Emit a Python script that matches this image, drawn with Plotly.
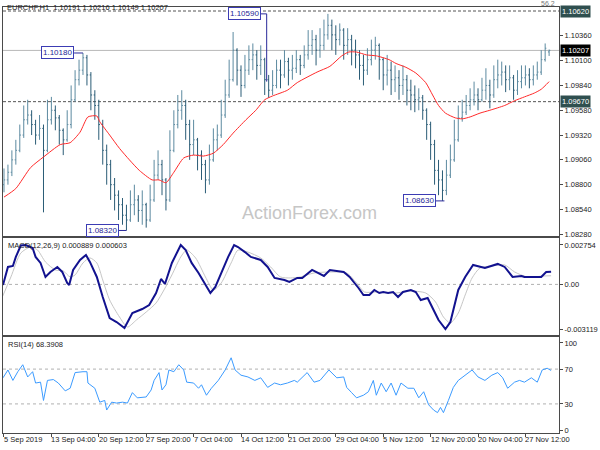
import plotly.graph_objects as go

# ---------------- data ----------------
bar_idx = list(range(139))

open_ = [1.0880,1.0885,1.0893,1.0906,1.0916,1.0932,1.0948,1.0953,1.0943,1.0932,
         1.0939,1.0916,1.0948,1.0958,1.0950,1.0937,1.0927,1.0943,1.0969,1.0990,
         1.1000,1.1013,1.0995,1.0974,1.0963,1.0943,1.0916,1.0901,1.0880,1.0869,
         1.0859,1.0848,1.0843,1.0859,1.0864,1.0853,1.0859,1.0843,1.0864,1.0890,
         1.0901,1.0885,1.0864,1.0916,1.0943,1.0958,1.0963,1.0943,1.0922,1.0927,
         1.0911,1.0901,1.0885,1.0906,1.0927,1.0932,1.0953,1.0974,1.0990,1.1021,
         1.1000,1.0984,1.1000,1.1011,1.1016,1.1005,1.1011,1.0990,1.0979,1.0984,
         1.1000,1.0995,1.1009,1.1000,1.1002,1.1011,1.1005,1.1016,1.1026,1.1032,
         1.1021,1.1026,1.1037,1.1047,1.1037,1.1032,1.1042,1.1026,1.1032,1.1021,
         1.1016,1.1005,1.1000,1.1011,1.1021,1.1026,1.1011,1.0995,1.1000,1.0990,
         1.0992,1.0984,1.0990,1.0979,1.0974,1.0969,1.0971,1.0958,1.0943,1.0922,
         1.0895,1.0885,1.0874,1.0890,1.0906,1.0927,1.0950,1.0956,1.0963,1.0969,
         1.0974,1.0969,1.0979,1.0984,1.0974,1.0990,1.0995,1.0998,1.0990,1.0992,
         1.0979,1.0988,1.0992,1.0995,1.0990,1.0995,1.0998,1.1011,1.10191]

high = [1.0897,1.0901,1.0916,1.0927,1.0943,1.0963,1.0969,1.0958,1.0948,1.0953,
        1.0943,1.0969,1.0972,1.0963,1.0953,1.0939,1.0958,1.0984,1.1000,1.1011,
        1.1018,1.1016,1.0998,1.0979,1.0969,1.0948,1.0922,1.0906,1.0887,1.0874,
        1.0866,1.0859,1.0874,1.0880,1.0869,1.0874,1.0861,1.0880,1.0906,1.0916,
        1.0906,1.0887,1.0937,1.0958,1.0974,1.0979,1.0969,1.0948,1.0948,1.0929,
        1.0916,1.0906,1.0922,1.0939,1.0943,1.0969,1.0990,1.1011,1.1040,1.1023,
        1.1005,1.1016,1.1026,1.1028,1.1021,1.1026,1.1013,1.0995,1.1000,1.1011,
        1.1011,1.1021,1.1013,1.1016,1.1021,1.1016,1.1026,1.1042,1.1042,1.1037,
        1.1044,1.1053,1.1059,1.1053,1.1047,1.1049,1.1044,1.1044,1.1037,1.1032,
        1.1021,1.1016,1.1023,1.1032,1.1035,1.1028,1.1013,1.1016,1.1009,1.1005,
        1.1000,1.1005,1.0995,1.0990,1.0984,1.0981,1.0974,1.0960,1.0946,1.0927,
        1.0906,1.0895,1.0906,1.0922,1.0948,1.0963,1.0969,1.0974,1.0981,1.0988,
        1.0981,1.0992,1.1002,1.0990,1.1005,1.1011,1.1009,1.1005,1.1005,1.0995,
        1.1000,1.1005,1.1005,1.1002,1.1005,1.1009,1.1021,1.1028,1.10216]

low = [1.0872,1.0880,1.0889,1.0901,1.0914,1.0929,1.0943,1.0932,1.0922,1.0927,
       1.0851,1.0914,1.0943,1.0937,1.0922,1.0911,1.0925,1.0939,1.0967,1.0984,
       1.0995,1.0984,1.0958,1.0948,1.0927,1.0901,1.0880,1.0864,1.0853,1.0843,
       1.0838,1.0832,1.0841,1.0848,1.0841,1.0838,1.0835,1.0841,1.0862,1.0885,
       1.0869,1.0853,1.0862,1.0914,1.0939,1.0948,1.0927,1.0906,1.0911,1.0895,
       1.0885,1.0871,1.0880,1.0904,1.0916,1.0929,1.0950,1.0971,1.0988,1.0984,
       1.0972,1.0981,1.0995,1.1000,1.0990,1.0995,1.0974,1.0971,1.0974,1.0981,
       1.0981,1.0992,1.0984,1.0990,1.0997,1.0995,1.1002,1.1011,1.1016,1.1005,
       1.1013,1.1021,1.1032,1.1021,1.1016,1.1026,1.1011,1.1016,1.1005,1.1002,
       1.0990,1.0984,1.0995,1.1005,1.1011,1.0990,1.0979,1.0984,1.0974,1.0977,
       1.0969,1.0974,1.0963,1.0958,1.0956,1.0958,1.0948,1.0927,1.0906,1.0880,
       1.0869,1.0863,1.0869,1.0887,1.0904,1.0925,1.0946,1.0953,1.0958,1.0963,
       1.0958,1.0967,1.0969,1.0960,1.0971,1.0981,1.0984,1.0977,1.0979,1.0969,
       1.0974,1.0981,1.0984,1.0981,1.0984,1.0990,1.0995,1.1009,1.10149]

close = [1.0885,1.0893,1.0906,1.0916,1.0932,1.0948,1.0953,1.0943,1.0932,1.0939,
         1.0916,1.0948,1.0958,1.0950,1.0937,1.0927,1.0943,1.0969,1.0990,1.1000,
         1.1013,1.0995,1.0974,1.0963,1.0943,1.0916,1.0901,1.0880,1.0869,1.0859,
         1.0848,1.0843,1.0859,1.0864,1.0853,1.0859,1.0843,1.0864,1.0890,1.0901,
         1.0885,1.0864,1.0916,1.0943,1.0958,1.0963,1.0943,1.0922,1.0927,1.0911,
         1.0901,1.0885,1.0906,1.0927,1.0932,1.0953,1.0974,1.0990,1.1021,1.1000,
         1.0984,1.1000,1.1011,1.1016,1.1005,1.1011,1.0990,1.0979,1.0984,1.1000,
         1.0995,1.1009,1.1000,1.1002,1.1011,1.1005,1.1016,1.1026,1.1032,1.1021,
         1.1026,1.1037,1.1047,1.1037,1.1032,1.1042,1.1026,1.1032,1.1021,1.1016,
         1.1005,1.1000,1.1011,1.1021,1.1026,1.1011,1.0995,1.1000,1.0990,1.0992,
         1.0984,1.0990,1.0979,1.0974,1.0969,1.0971,1.0958,1.0943,1.0922,1.0895,
         1.0885,1.0874,1.0890,1.0906,1.0927,1.0950,1.0956,1.0963,1.0969,1.0974,
         1.0969,1.0979,1.0984,1.0974,1.0990,1.0995,1.0998,1.0990,1.0992,1.0979,
         1.0988,1.0992,1.0995,1.0990,1.0995,1.0998,1.1011,1.1023,1.10207]

ma_x = [0,3,6.75,10,14.25,16.75,19.25,21.25,23.5,24.25,
        26.75,29.25,31.75,34.25,37.5,39.25,41,43,45.5,48,
        50.5,53,55.5,58,61.25,63.75,66,68,71.75,74.25,
        79.25,82.5,85.5,87.25,89.25,91.75,94.25,97.5,99.25,101.75,
        104.25,106.75,108.5,110,111.75,114.25,116,118,120.5,123,
        126.75,129.25,131.75,134.25,136,138]
ma_v = [1.0867,1.0876,1.0898,1.0909,1.0922,1.0924,1.0935,1.0951,1.0952,1.0946,
        1.0932,1.0918,1.0906,1.0895,1.0885,1.0885,1.0882,1.0893,1.0908,1.0911,
        1.0910,1.0913,1.0922,1.0934,1.0948,1.0958,1.0969,1.0973,1.0979,1.0987,
        1.0998,1.1004,1.1015,1.1019,1.1019,1.1016,1.1015,1.1011,1.1007,1.1003,
        1.0997,1.0987,1.0974,1.0963,1.0955,1.0950,1.0949,1.0951,1.0955,1.0958,
        1.0963,1.0968,1.0972,1.0976,1.0980,1.0988]

macd_x = [-0.25,1,2.25,3,4.25,5.5,7.25,8,9.25,10.5,11.75,13.5,14.75,16,16.5,17.5,
          19.25,20.75,21.75,23.5,25,26.75,28.5,30.5,32.5,35,36.75,38.5,39.75,40.75,
          42.5,44.75,46,47.5,49.25,51,52.25,53.5,55,56.75,58.25,59.25,61,62.5,65,
          66.75,68.5,71,72.25,74.25,75.5,78,81,82.5,86,87.5,89.75,91,92.5,93.75,95,
          96,97.25,98.5,99.75,101,103,104.25,105.5,107.25,108.75,110,111.75,113,115,
          116.75,118.75,120.5,121.75,125,126.75,128.75,131,131.75,136,137.25,138.5]
macd_v = [-0.00004,0.00122,0.00129,0.00192,0.00272,0.00275,0.00254,0.00192,0.00150,0.00052,
          0.00087,0.00122,0.00087,0.00010,-0.00004,0.00101,0.00171,0.00206,0.00157,0.00052,
          -0.00088,-0.00235,-0.00263,-0.00305,-0.00200,-0.00172,-0.00144,-0.00060,0.00038,0.00003,
          0.00150,0.00275,0.00240,0.00150,0.00080,-0.00004,-0.00060,-0.00018,0.00080,0.00192,
          0.00275,0.00261,0.00226,0.00192,0.00171,0.00122,0.00045,0.00031,0.00017,0.00045,
          0.00045,0.00101,0.00059,0.00101,0.00087,0.00052,-0.00025,-0.00074,-0.00074,-0.00039,
          -0.00060,-0.00053,-0.00060,-0.00053,-0.00088,-0.00053,-0.00039,-0.00053,-0.00109,-0.00095,
          -0.00179,-0.00249,-0.00312,-0.00263,-0.00039,0.00052,0.00136,0.00122,0.00115,0.00143,
          0.00122,0.00052,0.00059,0.00052,0.00052,0.00087,0.000889]

signal_x = [-0.75,1.75,4.25,6.75,8.5,10.5,13,15,16.75,18,20,21.75,23.5,25,26.75,29.25,
            31.25,33.5,36,38.5,40.5,42.5,44.75,46.25,48.5,51,53,55,57.5,59.25,61.75,65,
            67.5,70,72.5,75,78.5,83.5,86.75,89.25,91.25,94.25,99.25,102.5,106.75,109.25,
            111.25,113,115,116.75,118.5,120.5,123.5,126.75,129.25,132.5,136.75,138.5]
signal_v = [-0.00109,0.00052,0.00219,0.00261,0.00240,0.00157,0.00101,0.00094,0.00052,0.00066,
            0.00150,0.00185,0.00150,0.00031,-0.00109,-0.00228,-0.00298,-0.00249,-0.00193,-0.00130,
            -0.00039,0.00066,0.00192,0.00240,0.00185,0.00052,-0.00039,0.00010,0.00150,0.00240,
            0.00226,0.00185,0.00122,0.00052,0.00045,0.00052,0.00080,0.00087,0.00080,0.00010,
            -0.00053,-0.00053,-0.00060,-0.00046,-0.00060,-0.00123,-0.00228,-0.00270,-0.00200,-0.00074,
            0.00045,0.00115,0.00129,0.00136,0.00087,0.00052,0.00059,0.000603]

rsi_x = [-0.25,1,2.25,3.5,4.75,6,7.25,8,9.25,10,11,12.5,13.75,15.5,16.75,18,20,21,21.25,
         23,24.25,25.5,26,27.25,28.5,30,31.25,32.5,33.75,36,37.25,38,39.25,40,41,41.75,
         43,44.25,45.5,46.25,48,49.25,50,51.25,52.5,54.25,56,57.5,58.5,60,61.75,63.5,65,
         66.75,68.5,70,71.75,73.5,74.25,75.5,76.75,78.5,80,82.25,84.25,86,86.75,88,89.25,
         91,92.25,93.5,94.25,95.5,96.75,98,99.25,100.5,102.25,103.75,105,106.25,107.5,
         108.75,109.75,110.5,111.25,112.5,113.75,115,116.25,118.5,120,121.75,123.5,125,
         126.25,127.5,129.25,130.5,131.75,133.5,135,136.25,137.5,138.5]
rsi_v = [60,69,57,67,75,61,67,54,55,34,57,58,54,45,48,66,67,67,54,
         48,32,34,23,32,31,32,31,43,37,38,46,57,66,46,52,69,
         67,75,69,55,54,48,52,40,48,57,69,83,69,63,61,57,60,
         49,54,52,54,57,55,61,66,55,57,69,60,61,49,43,37,
         40,44,57,40,54,44,54,40,54,48,48,37,44,29,
         23,20,26,20,34,49,57,61,69,61,57,63,66,
         60,48,55,57,55,60,55,69,71,68.39]

price_ticks = [1.0828, 1.0854, 1.0880, 1.0906, 1.0932, 1.0958, 1.0984, 1.1010, 1.1036]
price_tick_text = ["1.08280", "1.08540", "1.08800", "1.09060", "1.09320",
                   "1.09580", "1.09840", "1.10100", "1.10360"]
macd_ticks = [-0.003119, 0.0, 0.002754]
macd_tick_text = ["-0.003119", "0.00", "0.002754"]
rsi_ticks = [0, 30, 70, 100]
time_tick_idx = [0, 12, 24, 36, 48, 60, 72, 84, 96, 108, 120, 132]
time_tick_labels = ["5 Sep 2019", "13 Sep 04:00", "20 Sep 12:00", "27 Sep 20:00",
                    "7 Oct 04:00", "14 Oct 12:00", "21 Oct 20:00", "29 Oct 04:00",
                    "5 Nov 12:00", "12 Nov 20:00", "20 Nov 04:00", "27 Nov 12:00"]
level_lines = [1.1062, 1.0967]
level_text = ["1.10620", "1.09670"]
last_price = 1.10207
# extreme labels: text, price, box right bar index, connector end index, connector drop price
ext_text = ["1.10180", "1.10590", "1.08320", "1.08630"]
ext_price = [1.1018, 1.1059, 1.0832, 1.0863]
ext_box_right = [17.75, 65.0, 29.0, 109.25]
ext_line_end = [20.0, 66.5, 31.0, 111.5]
ext_drop_to = [None, 1.0988, None, None]

# ---------------- figure ----------------
FONT = "Liberation Sans"
FRAME = "#4a4a4a"
fig = go.Figure()

fig.add_trace(go.Ohlc(x=bar_idx, open=open_, high=high, low=low, close=close,
                      xaxis="x", yaxis="y", tickwidth=0.3,
                      increasing=dict(line=dict(color="#5c8aa0", width=1)),
                      decreasing=dict(line=dict(color="#2a5c76", width=1)),
                      hoverinfo="skip"))
fig.add_trace(go.Scatter(x=ma_x, y=ma_v, mode="lines", xaxis="x", yaxis="y",
                         line=dict(color="#ff2a2a", width=1, shape="spline", smoothing=0.6),
                         hoverinfo="skip"))
fig.add_trace(go.Scatter(x=signal_x, y=signal_v, mode="lines", xaxis="x2", yaxis="y2",
                         line=dict(color="#c6c6c6", width=1, shape="spline", smoothing=0.7),
                         hoverinfo="skip"))
fig.add_trace(go.Scatter(x=macd_x, y=macd_v, mode="lines", xaxis="x2", yaxis="y2",
                         line=dict(color="#12128f", width=2),
                         hoverinfo="skip"))
fig.add_trace(go.Scatter(x=rsi_x, y=rsi_v, mode="lines", xaxis="x3", yaxis="y3",
                         line=dict(color="#3b9bff", width=1),
                         hoverinfo="skip"))

xr = [-0.25, 140.5]
xcommon = dict(range=xr, showgrid=False, zeroline=False, showline=True, mirror=True,
               linecolor=FRAME, linewidth=1, fixedrange=True)
ycommon = dict(side="right", showgrid=False, zeroline=False, showline=True, mirror=True,
               linecolor=FRAME, linewidth=1, ticks="outside", ticklen=3, tickcolor=FRAME,
               tickfont=dict(family=FONT, size=7.5, color="#222"), fixedrange=True)

fig.update_layout(
    width=600, height=450,
    margin=dict(l=2, r=35, t=7, b=17),
    paper_bgcolor="white", plot_bgcolor="white",
    showlegend=False,
    xaxis=dict(domain=[0, 1], anchor="y", showticklabels=False, ticks="",
               rangeslider=dict(visible=False), **xcommon),
    xaxis2=dict(domain=[0, 1], anchor="y2", showticklabels=False, ticks="", **xcommon),
    xaxis3=dict(domain=[0, 1], anchor="y3", showticklabels=False, ticks="outside",
                ticklen=3, tickcolor=FRAME, tickvals=time_tick_idx, **xcommon),
    yaxis=dict(domain=[0.4624, 1], anchor="x", range=[1.08262, 1.10662],
               tickvals=price_ticks, ticktext=price_tick_text, **ycommon),
    yaxis2=dict(domain=[0.2300, 0.4566], anchor="x2", range=[-0.003538, 0.003209],
                tickvals=macd_ticks, ticktext=macd_tick_text, **ycommon),
    yaxis3=dict(domain=[0, 0.2254], anchor="x3", range=[-3.4, 106.9],
                tickvals=rsi_ticks, ticktext=[str(v) for v in rsi_ticks], **ycommon),
)

shapes = []
# dashed level lines and current price line
for lv in level_lines:
    shapes.append(dict(type="line", xref="x domain", yref="y", x0=0, x1=1, y0=lv, y1=lv,
                       line=dict(color="#555", width=1, dash="3px,2px"), layer="below"))
shapes.append(dict(type="line", xref="x domain", yref="y", x0=0, x1=1,
                   y0=last_price, y1=last_price,
                   line=dict(color="#b8b8b8", width=1), layer="below"))
# indicator reference lines
shapes.append(dict(type="line", xref="x2 domain", yref="y2", x0=0, x1=1, y0=0, y1=0,
                   line=dict(color="#b0b0b0", width=1, dash="3px,3px"), layer="below"))
for lv in [30, 70]:
    shapes.append(dict(type="line", xref="x3 domain", yref="y3", x0=0, x1=1, y0=lv, y1=lv,
                       line=dict(color="#b0b0b0", width=1, dash="3px,3px"), layer="below"))
# connectors of extreme labels
for t, p, xb, xe, dp in zip(ext_text, ext_price, ext_box_right, ext_line_end, ext_drop_to):
    shapes.append(dict(type="line", xref="x", yref="y", x0=xb, x1=xe, y0=p, y1=p,
                       line=dict(color="#2a2a9a", width=1)))
    if dp is not None:
        shapes.append(dict(type="line", xref="x", yref="y", x0=xe, x1=xe, y0=p, y1=dp,
                           line=dict(color="#2a2a9a", width=1)))
fig.update_layout(shapes=shapes)

ann = []
# extreme label boxes
for t, p, xb in zip(ext_text, ext_price, ext_box_right):
    ann.append(dict(x=xb, y=p, xref="x", yref="y", text=t, showarrow=False,
                    xanchor="right", yanchor="middle", bgcolor="white",
                    bordercolor="#3c3cb4", borderwidth=1, borderpad=1,
                    font=dict(family=FONT, size=8, color="#1e1e96")))
# right-axis price boxes
for lv, t in zip(level_lines, level_text):
    ann.append(dict(x=1, y=lv, xref="paper", yref="y", text=t, showarrow=False,
                    xanchor="left", yanchor="middle", xshift=1, bgcolor="#2f4f4f",
                    borderpad=1, font=dict(family=FONT, size=7.5, color="white")))
ann.append(dict(x=1, y=last_price, xref="paper", yref="y", text="1.10207", showarrow=False,
                xanchor="left", yanchor="middle", xshift=1, bgcolor="black",
                borderpad=1, font=dict(family=FONT, size=7.5, color="white")))
# panel captions
ann.append(dict(x=0.004, y=0.9977, xref="paper", yref="paper", showarrow=False,
                text="EURCHF,H1  1.10191 1.10216 1.10149 1.10207",
                xanchor="left", yanchor="middle",
                font=dict(family=FONT, size=7.5, color="#222")))
ann.append(dict(x=0.996, y=1.008, xref="paper", yref="paper", showarrow=False,
                text="56.2", xanchor="right", yanchor="middle",
                font=dict(family=FONT, size=7, color="#777")))
ann.append(dict(x=0.005, y=0.4413, xref="paper", yref="paper", showarrow=False,
                text="MACD(12,26,9) 0.000889 0.000603", xanchor="left", yanchor="middle",
                font=dict(family=FONT, size=7.5, color="#222")))
ann.append(dict(x=0.005, y=0.2089, xref="paper", yref="paper", showarrow=False,
                text="RSI(14) 68.3908", xanchor="left", yanchor="middle",
                font=dict(family=FONT, size=7.5, color="#222")))
# watermark
ann.append(dict(x=0.5506, y=0.5164, xref="paper", yref="paper", showarrow=False,
                text="ActionForex.com", xanchor="center", yanchor="middle",
                font=dict(family=FONT, size=18, color="#c6c6c6")))
# time-axis labels (left aligned at tick, MT4 style)
for xi, t in zip(time_tick_idx, time_tick_labels):
    ann.append(dict(x=xi, y=-0.0164, xref="x3", yref="paper", text=t, showarrow=False,
                    xanchor="left", yanchor="middle", xshift=-2,
                    font=dict(family=FONT, size=7.5, color="#222")))
fig.update_layout(annotations=ann)

fig.write_html("out.html", config={"displayModeBar": False},
               post_script="document.body.style.margin='0px';")
